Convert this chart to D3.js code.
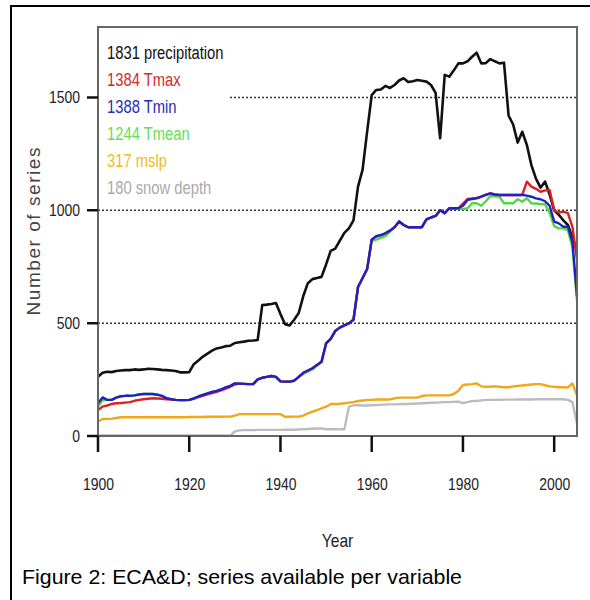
<!DOCTYPE html>
<html>
<head>
<meta charset="utf-8">
<script src="https://cdn.jsdelivr.net/npm/d3@7"></script>
<style>
  body { margin: 0; background: #fff; }
  svg { display: block; }
</style>
</head>
<body>
<svg id="chart" width="590" height="600"></svg>
<script>
// yearly counts, 1900..2005
const startYear = 1900;
const precipitation = [263, 280, 285, 283, 288, 290, 292, 292, 295, 293,
  295, 298, 297, 295, 293, 292, 290, 288, 282, 282,
  283, 318, 335, 352, 365, 378, 388, 392, 398, 400,
  412, 415, 418, 422, 423, 425, 580, 582, 585, 589,
  540, 495, 490, 515, 545, 620, 677, 695, 700, 705,
  760, 820, 830, 865, 900, 920, 955, 1105, 1180, 1350,
  1510, 1533, 1535, 1551, 1542, 1555, 1575, 1585, 1568, 1572,
  1577, 1574, 1570, 1555, 1520, 1319, 1600, 1592, 1620, 1651,
  1651, 1660, 1680, 1698, 1651, 1652, 1670, 1660, 1651, 1654,
  1420, 1380, 1300, 1348, 1290, 1200, 1140, 1100, 1127, 1070,
  1000, 980, 955, 935, 880, 820];
const tmax = [115, 130, 135, 142, 145, 146, 148, 150, 156, 160,
  163, 165, 167, 166, 165, 163, 162, 160, 159, 159,
  160, 165, 172, 178, 184, 190, 196, 202, 210, 218,
  228, 232, 231, 230, 230, 251, 258, 262, 266, 262,
  242, 241, 241, 245, 262, 280, 290, 300, 315, 329,
  410, 430, 465, 480, 490, 499, 515, 660, 700, 740,
  870, 885, 890, 898, 910, 925, 950, 935, 925, 925,
  925, 925, 960, 968, 975, 1000, 987, 1009, 1009, 1009,
  1030, 1050, 1052, 1055, 1060, 1068, 1075, 1070, 1068, 1068,
  1068, 1068, 1068, 1068, 1127, 1105, 1095, 1082, 1088, 1090,
  1000, 990, 994, 987, 927, 780];
const tmin = [145, 171, 160, 160, 170, 176, 178, 178, 180, 184,
  186, 186, 186, 183, 178, 168, 163, 160, 159, 159,
  160, 167, 175, 182, 189, 195, 200, 207, 215, 222,
  233, 232, 231, 230, 230, 251, 258, 262, 266, 262,
  242, 241, 241, 245, 262, 280, 290, 300, 315, 329,
  410, 430, 465, 480, 490, 499, 515, 660, 700, 740,
  870, 885, 890, 898, 910, 925, 950, 935, 925, 925,
  925, 925, 960, 968, 975, 1000, 987, 1009, 1009, 1009,
  1020, 1046, 1050, 1053, 1060, 1068, 1075, 1070, 1068, 1068,
  1068, 1068, 1068, 1068, 1065, 1060, 1053, 1049, 1040, 1020,
  950, 942, 927, 927, 860, 620];
const tmean = [130, 160, 160, 160, 170, 176, 178, 178, 180, 184,
  186, 186, 186, 183, 178, 168, 163, 160, 159, 159,
  160, 167, 175, 182, 189, 195, 200, 207, 215, 222,
  233, 232, 231, 230, 230, 251, 258, 262, 266, 262,
  242, 241, 241, 245, 262, 275, 285, 295, 312, 329,
  410, 430, 465, 480, 490, 499, 515, 660, 700, 740,
  865, 870, 878, 885, 905, 925, 950, 935, 925, 925,
  925, 925, 960, 968, 975, 1000, 987, 1009, 1009, 1009,
  1005, 1009, 1031, 1031, 1020, 1040, 1063, 1062, 1060, 1031,
  1031, 1031, 1049, 1038, 1053, 1031, 1030, 1028, 1027, 987,
  930, 920, 920, 912, 835, 600];
const mslp = [63, 75, 76, 77, 80, 83, 83, 83, 83, 83,
  83, 83, 83, 83, 83, 83, 83, 83, 83, 83,
  84, 84, 84, 84, 85, 85, 85, 85, 86, 86,
  90, 97, 97, 97, 97, 97, 97, 97, 97, 97,
  97, 85, 85, 86, 86, 90, 100, 108, 115, 122,
  130, 142, 142, 143, 145, 148, 150, 155, 157, 160,
  160, 162, 162, 162, 162, 167, 170, 170, 170, 170,
  170, 177, 180, 180, 180, 180, 180, 180, 186, 200,
  226, 228, 230, 233, 220, 218, 218, 220, 218, 216,
  216, 220, 222, 224, 226, 228, 230, 230, 225, 220,
  218, 216, 216, 215, 233, 180];
const snowDepth = [2, 2, 2, 2, 2, 2, 2, 2, 2, 2,
  2, 2, 2, 2, 2, 2, 2, 2, 2, 2,
  2, 2, 2, 2, 2, 2, 2, 2, 2, 2,
  20, 25, 26, 26, 26, 27, 27, 27, 27, 27,
  27, 28, 28, 28, 29, 30, 31, 32, 33, 34,
  30, 30, 30, 30, 30, 130, 136, 136, 135, 135,
  136, 137, 138, 139, 140, 140, 141, 142, 142, 143,
  144, 145, 146, 147, 148, 149, 150, 150, 151, 152,
  146, 150, 155, 155, 158, 160, 160, 160, 160, 161,
  161, 161, 162, 162, 162, 162, 163, 163, 163, 163,
  163, 163, 163, 160, 150, 55];

const seriesNames = ['1831 precipitation', '1384 Tmax', '1388 Tmin', '1244 Tmean', '317 mslp', '180 snow depth'];
const lineColors = ['#111111', '#e02020', '#2020c8', '#50d840', '#f0a818', '#bcbcbc'];
const textColors = ['#111111', '#d42a2a', '#2a2ab8', '#66dd55', '#eebb22', '#aaaaaa'];
const xTicks = [1900, 1920, 1940, 1960, 1980, 2000];
const yTicks = [0, 500, 1000, 1500];
const gridValues = [500, 1000, 1500];

const sans = "'Liberation Sans', Arial, sans-serif";

// squeeze text horizontally to mimic a narrow font
function narrow(sel, factor = 0.82) {
  sel.style('font-family', sans).each(function () {
    const w = this.getComputedTextLength();
    d3.select(this).attr('textLength', w * factor).attr('lengthAdjust', 'spacingAndGlyphs');
  });
}

const svg = d3.select('#chart');
const plotLeft = 98, plotRight = 577, plotTop = 27, plotBottom = 436;

const x = d3.scaleLinear().domain([1900, 2005]).range([plotLeft, plotRight]);
const y = d3.scaleLinear().domain([0, 1812]).range([plotBottom, plotTop]);

// outer frame (top and left only)
svg.append('path')
  .attr('d', 'M590,6H11V600')
  .attr('fill', 'none')
  .attr('stroke', '#000').attr('stroke-width', 2);

// grid
svg.append('g').selectAll('line')
  .data(gridValues)
  .enter()
  .append('line')
  .attr('x1', plotLeft).attr('x2', plotRight)
  .attr('y1', d => y(d)).attr('y2', d => y(d))
  .attr('stroke', '#333')
  .attr('stroke-width', 1.5)
  .attr('stroke-dasharray', '2,2');

// series, drawn back to front
const series = [precipitation, tmax, tmin, tmean, mslp, snowDepth];
const drawOrder = [5, 4, 0, 3, 1, 2];
const seriesLine = d3.line()
  .x((d, i) => x(startYear + i))
  .y(d => y(d));

svg.append('g').selectAll('path')
  .data(drawOrder)
  .enter()
  .append('path')
  .attr('d', k => seriesLine(series[k]))
  .attr('fill', 'none')
  .attr('stroke', k => lineColors[k])
  .attr('stroke-width', k => k === 0 ? 2.6 : 2.4)
  .attr('stroke-linejoin', 'round');

// legend with white background
svg.append('rect')
  .attr('x', plotLeft + 1).attr('y', 32)
  .attr('width', 129).attr('height', 168)
  .attr('fill', '#fff');
svg.append('g').selectAll('text')
  .data(seriesNames)
  .enter()
  .append('text')
  .attr('x', 107)
  .attr('y', (d, i) => 53 + i * 27)
  .attr('dy', '0.35em')
  .attr('fill', (d, i) => textColors[i])
  .style('font-size', '18px')
  .text(d => d)
  .call(narrow);

// plot box
svg.append('rect')
  .attr('x', plotLeft).attr('y', plotTop)
  .attr('width', plotRight - plotLeft).attr('height', plotBottom - plotTop)
  .attr('fill', 'none')
  .attr('stroke', '#666')
  .attr('stroke-width', 2);

// x axis labels
const xAxis = svg.append('g')
  .attr('transform', `translate(0,${plotBottom})`)
  .call(d3.axisBottom(x).tickValues(xTicks).tickFormat(d3.format('d')).tickSize(0).tickPadding(42));
xAxis.select('.domain').remove();
xAxis.selectAll('text')
  .attr('fill', '#222')
  .style('font-size', '17px')
  .call(narrow);

// y axis labels
const yAxis = svg.append('g')
  .attr('transform', `translate(${plotLeft},0)`)
  .call(d3.axisLeft(y).tickValues(yTicks).tickFormat(d3.format('d')).tickSize(0).tickPadding(18));
yAxis.select('.domain').remove();
yAxis.selectAll('text')
  .attr('fill', '#222')
  .style('font-size', '17px')
  .call(narrow);

// axis titles
svg.append('text')
  .attr('x', (plotLeft + plotRight) / 2).attr('y', 540)
  .attr('dy', '0.35em')
  .attr('text-anchor', 'middle')
  .attr('fill', '#222')
  .style('font-size', '19px')
  .text('Year')
  .call(narrow);

svg.append('text')
  .attr('transform', `translate(33,${(plotTop + plotBottom) / 2}) rotate(-90)`)
  .attr('dy', '0.35em')
  .attr('text-anchor', 'middle')
  .attr('fill', '#444')
  .attr('textLength', 168)
  .attr('lengthAdjust', 'spacing')
  .style('font-family', sans)
  .style('font-size', '19px')
  .text('Number of series');

// caption
svg.append('text')
  .attr('x', 22).attr('y', 577)
  .attr('dy', '0.35em')
  .attr('fill', '#000')
  .attr('textLength', 440)
  .attr('lengthAdjust', 'spacingAndGlyphs')
  .style('font-family', sans)
  .style('font-size', '21px')
  .text('Figure 2: ECA&D; series available per variable');

// tick marks, drawn last
const tickPath = xTicks.map(d => `M${x(d)},${plotBottom}v16`).join('')
  + yTicks.map(d => `M${plotLeft - 11},${y(d)}h11`).join('');
svg.append('path')
  .attr('d', tickPath)
  .attr('fill', 'none')
  .attr('stroke', '#111')
  .attr('stroke-width', 2.5);
</script>
</body>
</html>
